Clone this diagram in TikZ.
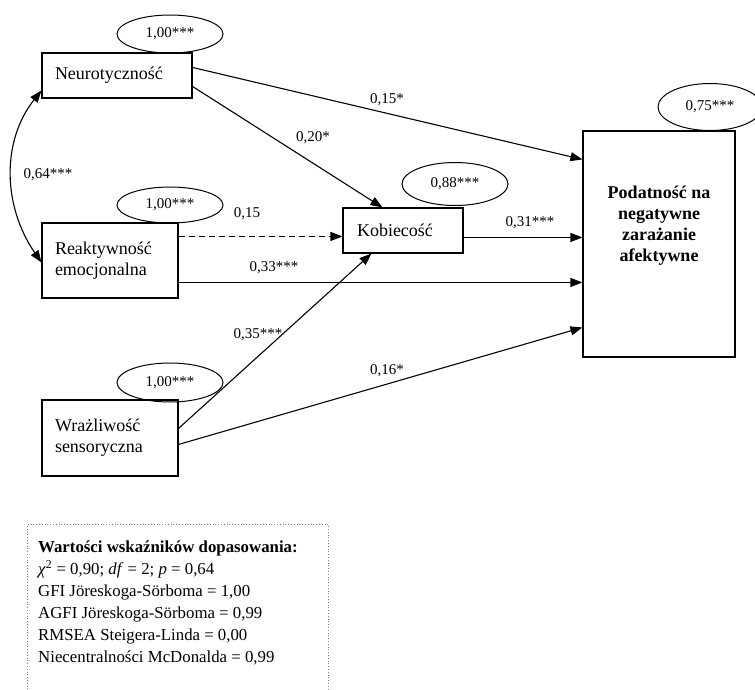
\documentclass[tikz,border=0pt]{standalone}
\usepackage{fontspec}
\setmainfont{Liberation Serif}
\usetikzlibrary{shapes.geometric,arrows.meta,calc}
\tikzset{
  box/.style={draw, line width=1.1pt, inner sep=0pt, font=\fontsize{18}{21}\selectfont},
  resid/.style={draw, ellipse, line width=1pt, inner sep=0pt, minimum width=106pt, font=\fontsize{15}{17}\selectfont},
  lbl/.style={inner sep=0pt, font=\fontsize{15}{17}\selectfont},
  arr/.style={line width=1.1pt, -{Triangle[length=12pt,width=9pt]}},
  darr/.style={line width=1.1pt, {Triangle[length=12pt,width=9pt]}-{Triangle[length=12pt,width=9pt]}},
}
\begin{document}
\begin{tikzpicture}[x=1pt,y=-1pt]
\useasboundingbox (0,0) rectangle (755,689);
% boxes
\node[box, minimum width=150pt, minimum height=45pt, text width=124pt, inner xsep=13pt, align=left] (neuro) at (117,75.5) {Neurotyczność};
\node[box, minimum width=136pt, minimum height=75pt, text width=110pt, inner xsep=13pt, align=left] (reakt) at (110,260.5) {Reaktywność\\emocjonalna};
\node[box, minimum width=136pt, minimum height=76pt, text width=110pt, inner xsep=13pt, align=left] (wraz) at (110,438) {Wrażliwość\\sensoryczna};
\node[box, minimum width=120pt, minimum height=45pt, text width=92pt, inner xsep=14pt, align=left] (kob) at (403,230.5) {Kobiecość};
\node[box, minimum width=152pt, minimum height=226pt] (big) at (659,244) {};
\node[inner sep=0pt, align=center, font=\fontsize{18}{21}\selectfont\bfseries] (bigtxt) at (659,226) {Podatność na\\negatywne\\zarażanie\\afektywne};
% residual ellipses
\node[resid, minimum height=38pt] (e1) at (170,34) {1,00***};
\node[resid, minimum height=36pt] (e2) at (170,205) {1,00***};
\node[resid, minimum height=39pt] (e3) at (170,382.5) {1,00***};
\node[resid, minimum height=43pt] (e4) at (455,184) {0,88***};
\node[resid, minimum height=47pt, minimum width=104pt] (e5) at (710,107) {0,75***};
% paths
\draw[arr] ($(neuro.north east)+(0,15)$) -- ($(big.north west)+(0,29)$);
\draw[arr] ($(neuro.north east)+(0,34)$) -- ($(kob.north west)+(40,0)$);
\draw[arr, dashed, dash pattern=on 6pt off 4pt] ($(reakt.north east)+(0,14)$) -- ($(kob.north west)+(0,29)$);
\draw[arr] ($(reakt.north east)+(0,60)$) -- ($(big.north west)+(0,152)$);
\draw[arr] ($(kob.north east)+(0,30)$) -- ($(big.north west)+(0,107)$);
\draw[arr] ($(wraz.north east)+(0,29)$) -- ($(kob.south west)+(29,0)$);
\draw[arr] ($(wraz.north east)+(0,45)$) -- ($(big.north west)+(0,197)$);
\draw[darr] ($(neuro.south west)+(0,-8)$) .. controls (2,140) and (2,205) .. ($(reakt.north west)+(0,40)$);
% labels
\node[lbl] (l1) at (387,100) {0,15*};
\node[lbl] (l2) at (313,138) {0,20*};
\node[lbl] (l3) at (247,214) {0,15};
\node[lbl] (l4) at (274,268) {0,33***};
\node[lbl] (l5) at (530,223) {0,31***};
\node[lbl] (l6) at (258,335) {0,35***};
\node[lbl] (l7) at (387,371) {0,16*};
\node[lbl] (l8) at (48,175) {0,64***};
% legend
\node[draw, dotted, gray, line width=0.8pt, anchor=north west, minimum width=301pt, minimum height=200pt, inner sep=0pt] (legendbox) at (27,524) {};
\node[anchor=north west, align=left, inner sep=0pt, font=\fontsize{16.8}{22}\selectfont] (legendtext) at (38,541) {\textbf{Wartości wskaźników dopasowania:}\\
\textit{χ}\textsuperscript{2} = 0,90; \textit{df} = 2; \textit{p} = 0,64\\
GFI Jöreskoga-Sörboma = 1,00\\
AGFI Jöreskoga-Sörboma = 0,99\\
RMSEA Steigera-Linda = 0,00\\
Niecentralności McDonalda = 0,99};
\end{tikzpicture}
\end{document}
